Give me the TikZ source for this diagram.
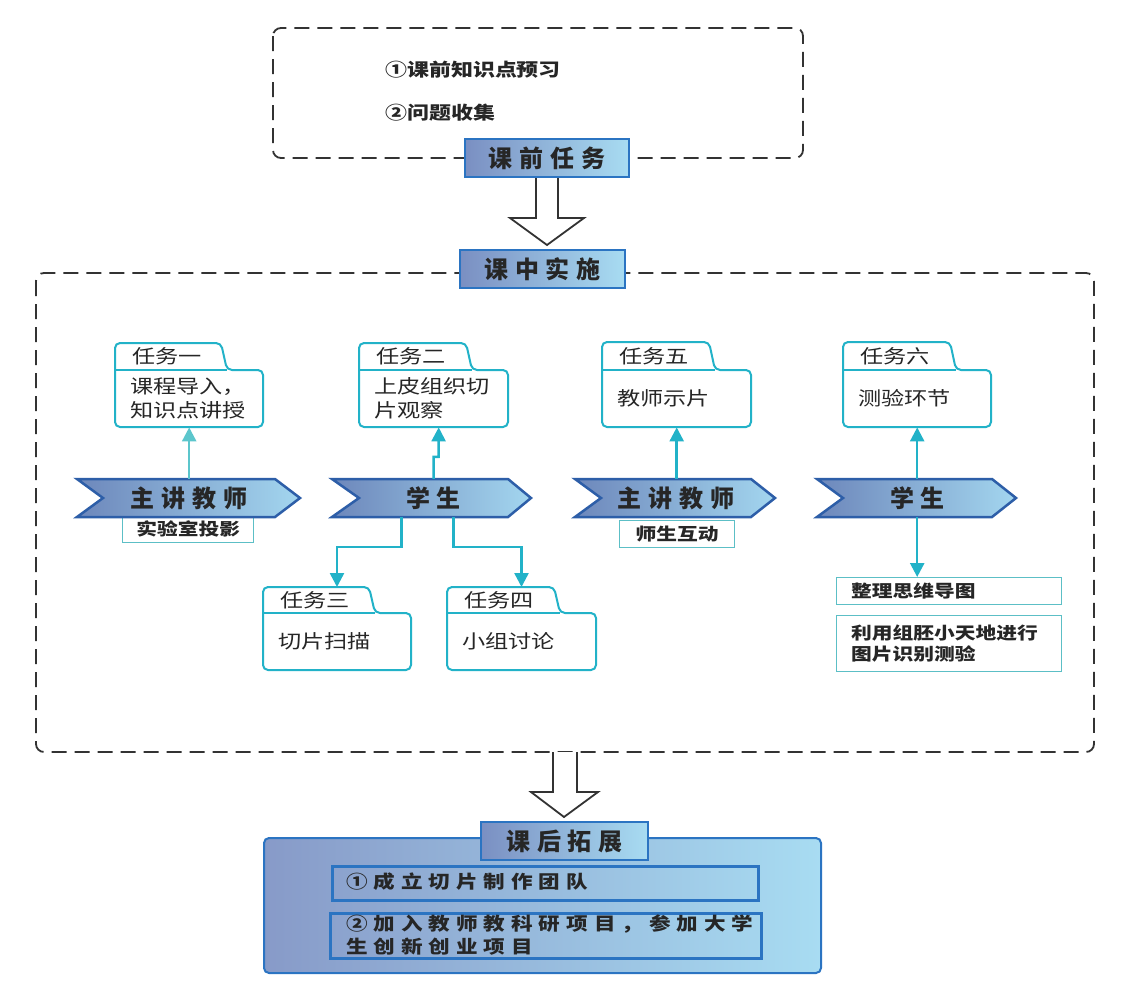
\documentclass[tikz,border=0pt]{standalone}
\usepackage{fontspec}
\newfontfamily\cjk[FakeStretch=1.22]{Noto Sans CJK SC}
\newfontfamily\cjkhead[LetterSpace=28]{Noto Sans CJK SC}
\newfontfamily\cjkbot[FakeStretch=1.2,LetterSpace=33]{Noto Sans CJK SC}
\usetikzlibrary{arrows.meta}
\definecolor{tealA}{HTML}{22B2C8}
\definecolor{tealB}{HTML}{5CC6CC}
\definecolor{tealthin}{HTML}{5CBFC6}
\definecolor{hdrL}{HTML}{7A8FC2}
\definecolor{hdrR}{HTML}{A8DCF2}
\definecolor{hdrB}{HTML}{2B74C2}
\definecolor{chevL}{HTML}{6D87BB}
\definecolor{chevR}{HTML}{A3D6EF}
\definecolor{chevB}{HTML}{2D5EA8}
\definecolor{dashc}{HTML}{333333}
\definecolor{txt}{HTML}{262626}
\tikzset{
  dashbox/.style={draw=dashc, line width=1.8pt, dash pattern=on 15pt off 8pt, rounded corners=8pt},
  header/.style={draw=hdrB, line width=2.5pt, left color=hdrL, right color=hdrR, inner sep=0pt,
    font=\cjkhead\bfseries\fontsize{24}{28}\selectfont, text=txt},
  hollow/.style={draw=dashc, line width=1.8pt, fill=white, line join=miter},
  chevron/.style={draw=chevB, line width=2.5pt, left color=chevL, right color=chevR, line join=miter},
  chevtext/.style={inner sep=0pt, font=\cjkhead\bfseries\fontsize{24}{28}\selectfont, text=txt},
  taskline/.style={draw=tealA, line width=2pt, rounded corners=5pt, fill=white},
  tasktext/.style={inner sep=0pt, font=\cjk\fontsize{19}{24}\selectfont, text=txt},
  subbox/.style={draw=tealthin, line width=1.3pt, fill=white, inner sep=0pt},
  subtext/.style={inner sep=0pt, font=\cjk\bfseries\fontsize{17}{21}\selectfont, text=txt},
  conn/.style={draw=tealA, line width=2.5pt, -{Triangle[width=14pt,length=14pt]}},
  bigbox/.style={draw=hdrB, line width=2pt, left color=hdrL!90!white, right color=hdrR, rounded corners=5pt, inner sep=0pt},
  innerbox/.style={draw=hdrB, line width=2.5pt, inner sep=0pt},
  bottext/.style={inner sep=0pt, font=\cjkbot\bfseries\fontsize{18}{23}\selectfont, text=txt, align=left},
}
\newcommand\taskbox[9]{%
  \draw[taskline] (#2,#5) -- (#2,#4) -- ({#7-6},#4) -- (#7,#5) -- (#3,#5) -- (#3,#6) -- (#2,#6) -- cycle;
  \draw[tealA, line width=2pt] (#2,#5) -- (#7,#5);
  \node[inner sep=0pt, minimum width={#3-#2}, minimum height={#6-#5}, anchor=north west] (#1) at (#2,#5) {};
  \coordinate (#1top) at ({(#2+#3)/2},#4);
  \node[tasktext, anchor=west] (#1lab) at ({#2+17},{(#4+#5)/2}) {#8};
  \node[tasktext, anchor=west, align=left] (#1txt) at ({#2+15},{(#5+#6)/2}) {#9};
}
\newcommand\chev[6]{%
  \path[chevron] (#2,479) -- (#4,479) -- (#5,498) -- (#4,517) -- (#2,517) -- (#3,498) -- cycle;
  \node[chevtext, minimum width={#4-#3}, minimum height=38] (#1) at ({(#3+#4)/2},498) {#6};
}
\begin{document}
\begin{tikzpicture}[x=1pt,y=-1pt]
\useasboundingbox (0,0) rectangle (1129,999);
\fill[white] (0,0) rectangle (1129,999);

% ---------- pre-class ----------
\draw[dashbox] (273,28) rectangle (803,158);
\node[inner sep=0pt, anchor=west, font=\cjk\bfseries\fontsize{18}{22}\selectfont, text=txt] (pre1) at (385,70) {①课前知识点预习};
\node[inner sep=0pt, anchor=west, font=\cjk\bfseries\fontsize{18}{22}\selectfont, text=txt] (pre2) at (385,113) {②问题收集};
\path[hollow] (536,177) -- (536,218) -- (510,218) -- (547,245) -- (584,218) -- (558,218) -- (558,177);
\node[header, minimum width=164, minimum height=38] (pre) at (547,158) {课前任务};

% ---------- in-class ----------
\draw[dashbox] (36,273) rectangle (1094,752);
\node[header, minimum width=165, minimum height=38] (mid) at (542.5,269) {课中实施};

\taskbox{t1}{115}{263}{343}{370}{427}{227}{任务一}{课程导入，\\知识点讲授}
\taskbox{t2}{359}{508}{343}{370}{427}{472}{任务二}{上皮组织切\\片观察}
\taskbox{t5}{602}{751}{342}{370}{427}{715}{任务五}{教师示片}
\taskbox{t6}{843}{991}{342}{370}{427}{956}{任务六}{测验环节}
\taskbox{t3}{263}{411}{587}{613}{670}{375}{任务三}{切片扫描}
\taskbox{t4}{447}{596}{587}{613}{670}{560}{任务四}{小组讨论}

\node[subbox, minimum width=131, minimum height=27, anchor=north west] (s1) at (122,515) {};
\node[subtext] at (s1.center) {实验室投影};
\node[subbox, minimum width=115, minimum height=27, anchor=north west] (s5) at (619,520) {};
\node[subtext] at (s5.center) {师生互动};
\node[subbox, minimum width=225, minimum height=27, anchor=north west] (z1) at (836,577) {};
\node[subtext, anchor=west] at ([xshift=15pt]z1.west) {整理思维导图};
\node[subbox, minimum width=225, minimum height=56, anchor=north west] (z2) at (836,615) {};
\node[subtext, anchor=west, align=left] at ([xshift=15pt]z2.west) {利用组胚小天地进行\\图片识别测验};

\chev{c1}{77}{103}{275}{300}{主讲教师}
\chev{c2}{332}{359}{508}{531}{学生}
\chev{c3}{575}{601}{751}{775}{主讲教师}
\chev{c4}{817}{843}{992}{1016}{学生}

\draw[conn, draw=tealB] (c1.north -| t1.south) -- (t1.south);
\draw[conn] (c2.north) -- ++(0,-22) -- ++(5,0) -- ([xshift=5pt]t2.south);
\draw[conn] (c3.north -| t5.south) -- (t5.south);
\draw[conn] (c4.north -| t6.south) -- (t6.south);
\draw[conn] ([xshift=-32pt]c2.south) -- ++(0,30) -| (t3top);
\draw[conn] ([xshift=20pt]c2.south) -- ++(0,30) -| (t4top);
\draw[conn] (c4.south -| t6.south) -- (t6.south |- z1.north);

% ---------- after class ----------
\path[hollow] (553,752) -- (553,792) -- (531,792) -- (564,817) -- (598,792) -- (577,792) -- (577,752);
\node[bigbox, minimum width=557, minimum height=135, anchor=north west] (post) at (263,837) {};
\node[header, minimum width=167, minimum height=38] (posth) at (564.5,841) {课后拓展};
\node[innerbox, minimum width=426, minimum height=34, anchor=north west] (p1) at (331,865) {};
\node[bottext, anchor=west] at (346,882) {①成立切片制作团队};
\node[innerbox, minimum width=431, minimum height=45, anchor=north west] (p2) at (329,912) {};
\node[bottext, anchor=west] at (346,935.5) {②加入教师教科研项目，参加大学\\生创新创业项目};
\end{tikzpicture}
\end{document}
